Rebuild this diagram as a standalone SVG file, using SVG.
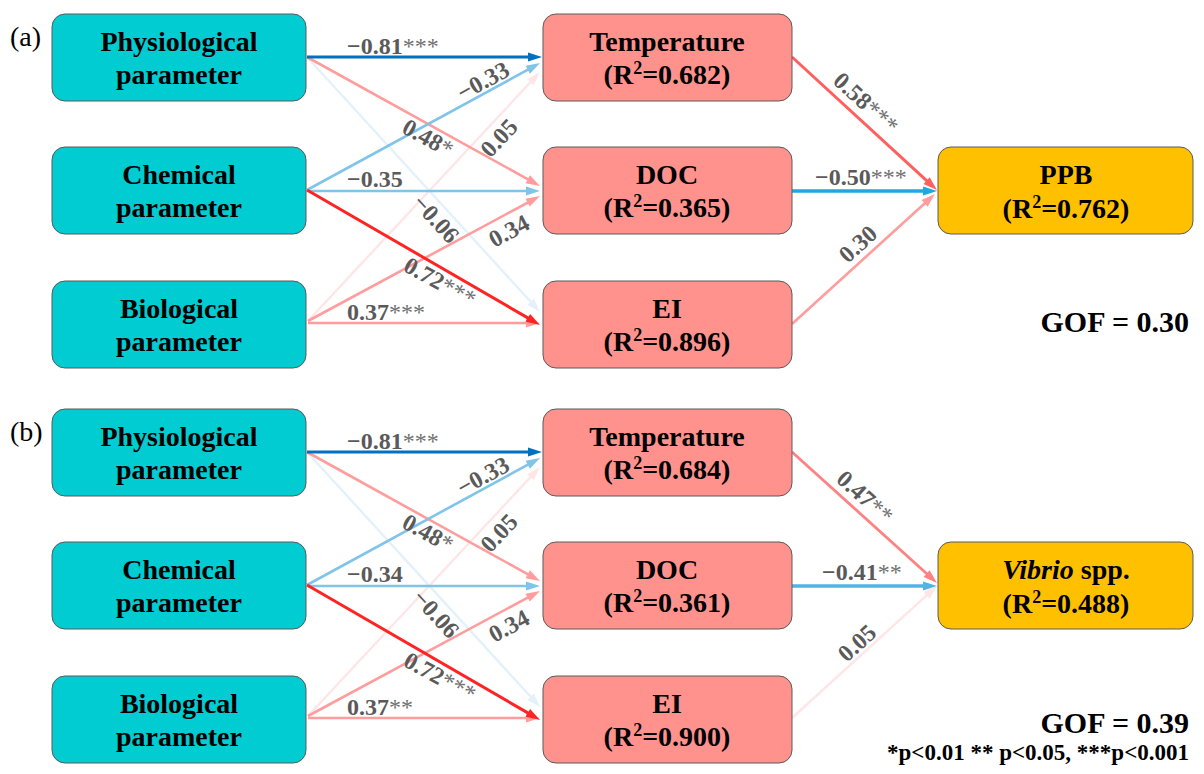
<svg xmlns="http://www.w3.org/2000/svg" width="1204" height="774" viewBox="0 0 1204 774">
<style>
.bg{fill:#ffffff}
.box{stroke:#5a5a5a;stroke-width:1}
.teal{fill:#00CCD2}
.pink{fill:#FF928D}
.gold{fill:#FFC000}
.nt{font-family:"Liberation Serif","Times New Roman",serif;font-weight:bold;font-size:28px;fill:#000;text-anchor:middle}
.sup{font-size:18px}
.el{font-family:"Liberation Serif","Times New Roman",serif;font-weight:bold;font-size:24px;fill:#5a5a5a}
.st{font-weight:normal;fill:#707070}
.mid{text-anchor:middle}
.pl{font-family:"Liberation Serif","Times New Roman",serif;font-size:28px;fill:#000}
.gof{font-family:"Liberation Serif","Times New Roman",serif;font-weight:bold;font-size:30px;fill:#000;text-anchor:end}
.leg{font-family:"Liberation Serif","Times New Roman",serif;font-weight:bold;font-size:23px;fill:#000;text-anchor:end}
.e{fill:none;stroke-linecap:butt}
.dblue{stroke:#0070C0;stroke-width:3;marker-end:url(#m-dblue)}
.lblue{stroke:#80C4E9;stroke-width:2.6;marker-end:url(#m-lblue)}
.fblue{stroke:#E3F1FA;stroke-width:2.4;marker-end:url(#m-fblue)}
.red{stroke:#FF2424;stroke-width:3;marker-end:url(#m-red)}
.lpink{stroke:#FF9C9C;stroke-width:2.6;marker-end:url(#m-lpink)}
.fpink{stroke:#FFE6E6;stroke-width:2.4;marker-end:url(#m-fpink)}
.salmon{stroke:#FF5F5F;stroke-width:3;marker-end:url(#m-salmon)}
.salmon2{stroke:#FF8282;stroke-width:2.8;marker-end:url(#m-salmon2)}
.cyan{stroke:#1CA8E0;stroke-width:3.4;marker-end:url(#m-cyan)}
.cyan2{stroke:#4FB5E5;stroke-width:3.4;marker-end:url(#m-cyan2)}
</style>
<defs>
<marker id="m-dblue" markerUnits="userSpaceOnUse" viewBox="0 0 14 10" markerWidth="15" markerHeight="10" refX="7" refY="5" orient="auto"><path d="M0,0.5 L14,5 L0,9.5 z" fill="#0070C0"/></marker>
<marker id="m-lblue" markerUnits="userSpaceOnUse" viewBox="0 0 14 10" markerWidth="15" markerHeight="10" refX="7" refY="5" orient="auto"><path d="M0,0.5 L14,5 L0,9.5 z" fill="#80C4E9"/></marker>
<marker id="m-fblue" markerUnits="userSpaceOnUse" viewBox="0 0 14 10" markerWidth="15" markerHeight="10" refX="7" refY="5" orient="auto"><path d="M0,0.5 L14,5 L0,9.5 z" fill="#E3F1FA"/></marker>
<marker id="m-red" markerUnits="userSpaceOnUse" viewBox="0 0 14 10" markerWidth="15" markerHeight="10" refX="7" refY="5" orient="auto"><path d="M0,0.5 L14,5 L0,9.5 z" fill="#FF2424"/></marker>
<marker id="m-lpink" markerUnits="userSpaceOnUse" viewBox="0 0 14 10" markerWidth="15" markerHeight="10" refX="7" refY="5" orient="auto"><path d="M0,0.5 L14,5 L0,9.5 z" fill="#FF9C9C"/></marker>
<marker id="m-fpink" markerUnits="userSpaceOnUse" viewBox="0 0 14 10" markerWidth="15" markerHeight="10" refX="7" refY="5" orient="auto"><path d="M0,0.5 L14,5 L0,9.5 z" fill="#FFE6E6"/></marker>
<marker id="m-salmon" markerUnits="userSpaceOnUse" viewBox="0 0 14 10" markerWidth="15" markerHeight="10" refX="7" refY="5" orient="auto"><path d="M0,0.5 L14,5 L0,9.5 z" fill="#FF5F5F"/></marker>
<marker id="m-salmon2" markerUnits="userSpaceOnUse" viewBox="0 0 14 10" markerWidth="15" markerHeight="10" refX="7" refY="5" orient="auto"><path d="M0,0.5 L14,5 L0,9.5 z" fill="#FF8282"/></marker>
<marker id="m-cyan" markerUnits="userSpaceOnUse" viewBox="0 0 14 10" markerWidth="15" markerHeight="10" refX="7" refY="5" orient="auto"><path d="M0,0.5 L14,5 L0,9.5 z" fill="#1CA8E0"/></marker>
<marker id="m-cyan2" markerUnits="userSpaceOnUse" viewBox="0 0 14 10" markerWidth="15" markerHeight="10" refX="7" refY="5" orient="auto"><path d="M0,0.5 L14,5 L0,9.5 z" fill="#4FB5E5"/></marker>
</defs>
<rect class="bg" x="0" y="0" width="1204" height="774"/>

<text class="pl" x="10" y="46">(a)</text>
<text class="pl" x="10" y="441">(b)</text>

<g id="connectors">
  <!-- panel a -->
  <line class="e fpink" x1="308" y1="321" x2="535.2" y2="77.1"/>
  <line class="e fblue" x1="307" y1="57" x2="535.3" y2="306.8"/>
  <line class="e lpink" x1="307" y1="57" x2="533.9" y2="182.6"/>
  <line class="e lblue" x1="307" y1="190" x2="533.9" y2="66.4"/>
  <line class="e lblue" x1="307" y1="191" x2="533" y2="191"/>
  <line class="e lpink" x1="308" y1="321" x2="533.8" y2="199.3"/>
  <line class="e lpink" x1="308" y1="323" x2="533" y2="323"/>
  <line class="e red" x1="307" y1="190" x2="533.9" y2="321.4"/>
  <line class="e dblue" x1="307" y1="57" x2="535" y2="57"/>
  <line class="e salmon" x1="792" y1="57" x2="931.8" y2="185.3"/>
  <line class="e cyan" x1="792" y1="191" x2="930" y2="191"/>
  <line class="e lpink" x1="792" y1="324" x2="929.8" y2="198.7"/>
  <!-- panel b -->
  <line class="e fpink" x1="308" y1="716" x2="535.2" y2="472.1"/>
  <line class="e fblue" x1="307" y1="452" x2="535.3" y2="701.8"/>
  <line class="e lpink" x1="307" y1="452" x2="533.9" y2="577.6"/>
  <line class="e lblue" x1="307" y1="585" x2="533.9" y2="461.4"/>
  <line class="e lblue" x1="307" y1="586" x2="533" y2="586"/>
  <line class="e lpink" x1="308" y1="716" x2="533.8" y2="594.3"/>
  <line class="e lpink" x1="308" y1="718" x2="533" y2="718"/>
  <line class="e red" x1="307" y1="585" x2="533.9" y2="716.4"/>
  <line class="e dblue" x1="307" y1="452" x2="535" y2="452"/>
  <line class="e salmon2" x1="792" y1="452" x2="931.8" y2="578.3"/>
  <line class="e cyan2" x1="792" y1="586" x2="930" y2="586"/>
  <line class="e fpink" x1="792" y1="718" x2="931.8" y2="590.7"/>
</g>

<g id="edge-labels">
  <!-- panel a -->
  <text class="el" x="347" y="54">−0.81<tspan class="st">***</tspan></text>
  <text class="el mid" transform="translate(483,81) rotate(-28.6)" x="0" y="8">−0.33</text>
  <text class="el mid" transform="translate(428,138) rotate(29)" x="0" y="8">0.48<tspan class="st">*</tspan></text>
  <text class="el mid" transform="translate(499,138) rotate(-47)" x="0" y="8">0.05</text>
  <text class="el" x="347" y="187">−0.35</text>
  <text class="el mid" transform="translate(436,219) rotate(47.6)" x="0" y="8">−0.06</text>
  <text class="el mid" transform="translate(509,231) rotate(-28.2)" x="0" y="8">0.34</text>
  <text class="el mid" transform="translate(440,282) rotate(28.8)" x="0" y="8">0.72<tspan class="st">***</tspan></text>
  <text class="el" x="347" y="320">0.37<tspan class="st">***</tspan></text>
  <text class="el mid" transform="translate(866,103) rotate(42.5)" x="0" y="8">0.58<tspan class="st">***</tspan></text>
  <text class="el" x="815" y="185">−0.50<tspan class="st">***</tspan></text>
  <text class="el mid" transform="translate(858,244) rotate(-42.3)" x="0" y="8">0.30</text>
  <!-- panel b -->
  <text class="el" x="347" y="449">−0.81<tspan class="st">***</tspan></text>
  <text class="el mid" transform="translate(483,476) rotate(-28.6)" x="0" y="8">−0.33</text>
  <text class="el mid" transform="translate(428,533) rotate(29)" x="0" y="8">0.48<tspan class="st">*</tspan></text>
  <text class="el mid" transform="translate(499,533) rotate(-47)" x="0" y="8">0.05</text>
  <text class="el" x="347" y="582">−0.34</text>
  <text class="el mid" transform="translate(436,614) rotate(47.6)" x="0" y="8">−0.06</text>
  <text class="el mid" transform="translate(509,626) rotate(-28.2)" x="0" y="8">0.34</text>
  <text class="el mid" transform="translate(440,677) rotate(28.8)" x="0" y="8">0.72<tspan class="st">***</tspan></text>
  <text class="el" x="347" y="715">0.37<tspan class="st">**</tspan></text>
  <text class="el mid" transform="translate(865,497) rotate(42)" x="0" y="8">0.47<tspan class="st">**</tspan></text>
  <text class="el" x="822" y="580">−0.41<tspan class="st">**</tspan></text>
  <text class="el mid" transform="translate(857,643) rotate(-42.3)" x="0" y="8">0.05</text>
</g>

<!-- panel a nodes -->
<g id="a-physiological"><rect class="box teal" x="52" y="14" width="254" height="87" rx="13"/><text class="nt" x="179" y="51">Physiological</text><text class="nt" x="179" y="84">parameter</text></g>
<g id="a-chemical"><rect class="box teal" x="52" y="147" width="254" height="87" rx="13"/><text class="nt" x="179" y="184">Chemical</text><text class="nt" x="179" y="217">parameter</text></g>
<g id="a-biological"><rect class="box teal" x="52" y="281" width="254" height="87" rx="13"/><text class="nt" x="179" y="318">Biological</text><text class="nt" x="179" y="351">parameter</text></g>
<g id="a-temperature"><rect class="box pink" x="543" y="14" width="249" height="87" rx="13"/><text class="nt" x="667" y="51">Temperature</text><text class="nt" x="667" y="84">(R<tspan class="sup" dy="-10">2</tspan><tspan dy="10">=0.682)</tspan></text></g>
<g id="a-doc"><rect class="box pink" x="543" y="147" width="249" height="87" rx="13"/><text class="nt" x="667" y="184">DOC</text><text class="nt" x="667" y="217">(R<tspan class="sup" dy="-10">2</tspan><tspan dy="10">=0.365)</tspan></text></g>
<g id="a-ei"><rect class="box pink" x="543" y="281" width="249" height="87" rx="13"/><text class="nt" x="667" y="318">EI</text><text class="nt" x="667" y="351">(R<tspan class="sup" dy="-10">2</tspan><tspan dy="10">=0.896)</tspan></text></g>
<g id="a-ppb"><rect class="box gold" x="938" y="147" width="255" height="87" rx="13"/><text class="nt" x="1066" y="184">PPB</text><text class="nt" x="1066" y="218">(R<tspan class="sup" dy="-10">2</tspan><tspan dy="10">=0.762)</tspan></text></g>
<text class="gof" x="1189" y="332">GOF = 0.30</text>

<!-- panel b nodes -->
<g id="b-physiological"><rect class="box teal" x="52" y="409" width="254" height="87" rx="13"/><text class="nt" x="179" y="446">Physiological</text><text class="nt" x="179" y="479">parameter</text></g>
<g id="b-chemical"><rect class="box teal" x="52" y="542" width="254" height="87" rx="13"/><text class="nt" x="179" y="579">Chemical</text><text class="nt" x="179" y="612">parameter</text></g>
<g id="b-biological"><rect class="box teal" x="52" y="676" width="254" height="87" rx="13"/><text class="nt" x="179" y="713">Biological</text><text class="nt" x="179" y="746">parameter</text></g>
<g id="b-temperature"><rect class="box pink" x="543" y="409" width="249" height="87" rx="13"/><text class="nt" x="667" y="446">Temperature</text><text class="nt" x="667" y="479">(R<tspan class="sup" dy="-10">2</tspan><tspan dy="10">=0.684)</tspan></text></g>
<g id="b-doc"><rect class="box pink" x="543" y="542" width="249" height="87" rx="13"/><text class="nt" x="667" y="579">DOC</text><text class="nt" x="667" y="612">(R<tspan class="sup" dy="-10">2</tspan><tspan dy="10">=0.361)</tspan></text></g>
<g id="b-ei"><rect class="box pink" x="543" y="676" width="249" height="87" rx="13"/><text class="nt" x="667" y="713">EI</text><text class="nt" x="667" y="746">(R<tspan class="sup" dy="-10">2</tspan><tspan dy="10">=0.900)</tspan></text></g>
<g id="b-vibrio"><rect class="box gold" x="938" y="542" width="255" height="87" rx="13"/><text class="nt" x="1066" y="579"><tspan font-style="italic">Vibrio</tspan> spp.</text><text class="nt" x="1066" y="613">(R<tspan class="sup" dy="-10">2</tspan><tspan dy="10">=0.488)</tspan></text></g>
<text class="gof" x="1189" y="733">GOF = 0.39</text>
<text class="leg" x="1189" y="760">*p&lt;0.01 ** p&lt;0.05, ***p&lt;0.001</text>
</svg>
